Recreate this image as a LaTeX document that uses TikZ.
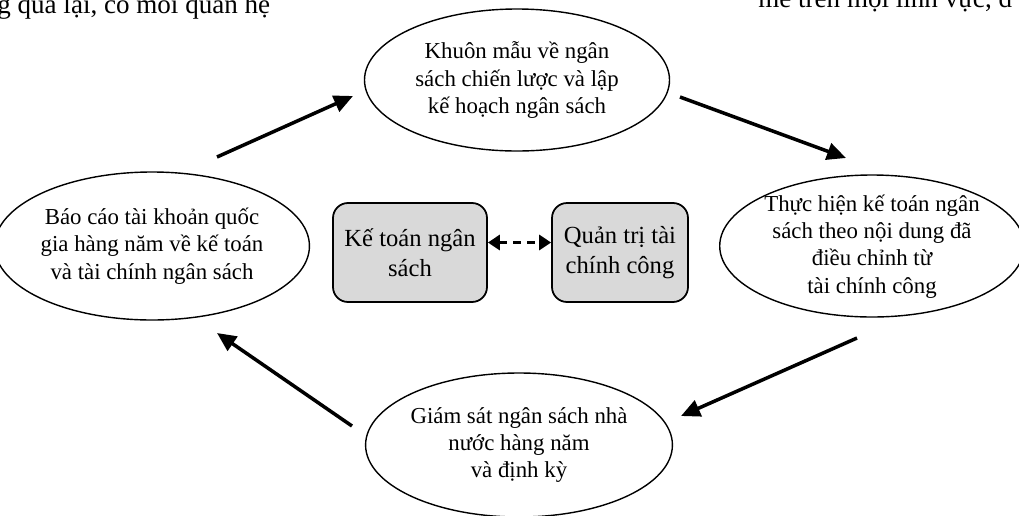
\documentclass[tikz,border=0pt]{standalone}
\usepackage{fontspec}
\setmainfont{Liberation Serif}
\usetikzlibrary{shapes.geometric,arrows.meta}

\begin{document}
\begin{tikzpicture}[
  stage/.style={ellipse, draw, line width=0.8pt, inner sep=0pt, align=center,
    font=\fontsize{13}{15.5}\selectfont},
  area/.style={rectangle, rounded corners=0.3cm, draw, line width=1pt,
    fill=black!15, align=center, font=\fontsize{14}{17}\selectfont},
  flow/.style={-{Triangle[length=0.38cm,width=0.34cm]}, line width=2pt},
  link/.style={{Triangle[length=0.24cm,width=0.3cm]}-{Triangle[length=0.24cm,width=0.3cm]},
    line width=1.9pt, dash pattern=on 4.5pt off 3.5pt},
  page/.style={inner sep=0pt, anchor=base west, font=\fontsize{15.4}{18}\selectfont}
]
\useasboundingbox (0,0) rectangle (20.38,-10.3);
\clip (0,0) rectangle (20.38,-10.3);

% lines of the page above the figure
\node (pl) at (-0.06,-0.26) [page] {g qua lại, có mối quan hệ};
\node (pr) at (15.16,-0.14) [page] {mẽ trên mọi lĩnh vực, đ};

% the four stages
\node (khuon) at (10.34,-1.6) [stage, minimum width=6.1cm, minimum height=2.84cm]
  {Khuôn mẫu về ngân\\sách chiến lược và lập\\kế hoạch ngân sách};
\node (thuc) at (17.44,-4.92) [stage, minimum width=5.8cm, minimum height=2.84cm, inner ysep=-0.1cm]
  {\\[-0.2cm]Thực hiện kế toán ngân\\sách theo nội dung đã\\điều chỉnh từ\\tài chính công};
\node (giam) at (10.38,-8.9) [stage, minimum width=5.96cm, minimum height=2.88cm]
  {Giám sát ngân sách nhà\\nước hàng năm\\và định kỳ};
\node (bao) at (3.04,-4.92) [stage, minimum width=5.96cm, minimum height=2.96cm]
  {Báo cáo tài khoản quốc\\gia hàng năm về kế toán\\và tài chính ngân sách};

% the two boxes in the middle
\node (kt) at (8.2,-5.05) [area, minimum width=3.08cm, minimum height=1.98cm] {Kế toán ngân\\sách};
\node (qt) at (12.4,-5.05) [area, minimum width=2.72cm, minimum height=1.98cm] {Quản trị tài\\chính công};

\draw[link] ([yshift=0.2cm]kt.east) -- ([yshift=0.2cm]qt.west);

% arrows of the cycle
\coordinate (a1s) at (4.34,-3.14);
\coordinate (a1e) at (7.06,-1.92);
\coordinate (a2s) at (13.6,-1.94);
\coordinate (a2e) at (16.92,-3.16);
\coordinate (a3s) at (17.14,-6.76);
\coordinate (a3e) at (13.62,-8.32);
\coordinate (a4s) at (7.04,-8.52);
\coordinate (a4e) at (4.34,-6.66);

\draw[flow] (a1s) -- (a1e);
\draw[flow] (a2s) -- (a2e);
\draw[flow] (a3s) -- (a3e);
\draw[flow] (a4s) -- (a4e);
\end{tikzpicture}
\end{document}
